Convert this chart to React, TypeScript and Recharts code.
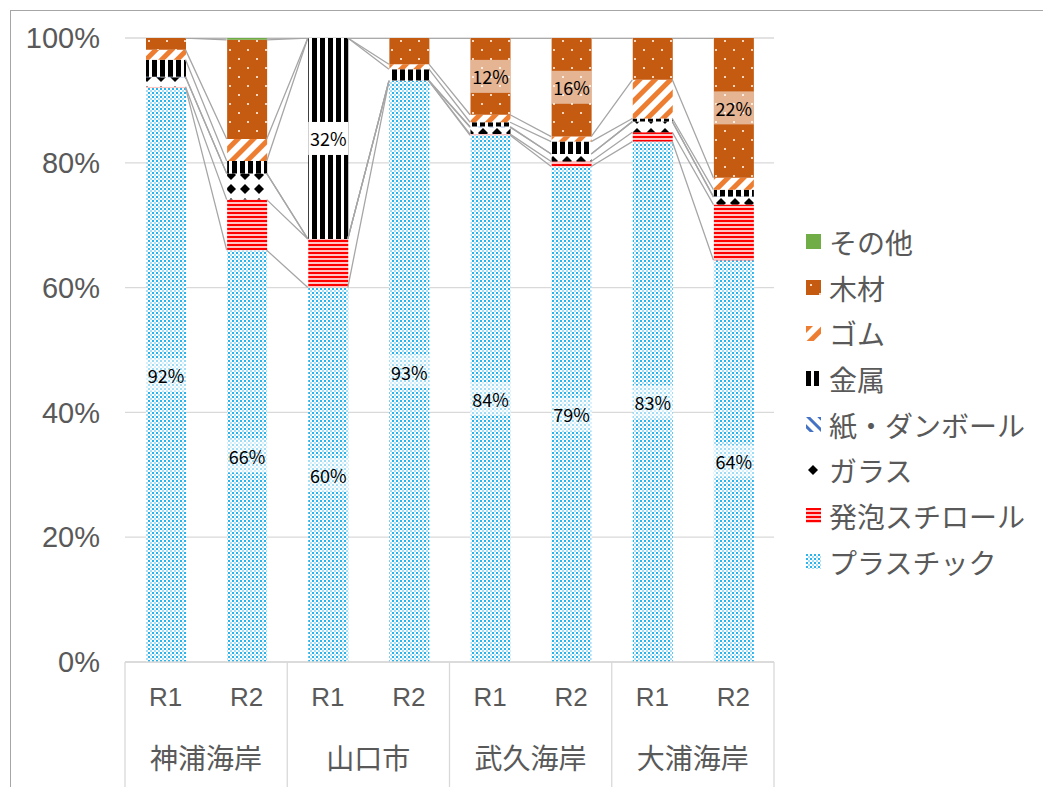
import { ComposedChart, Bar, Line, XAxis, YAxis, CartesianGrid, LabelList } from 'recharts';

const SITES = ['神浦海岸', '山口市', '武久海岸', '大浦海岸'];
const ROUNDS = ['R1', 'R2', 'R1', 'R2', 'R1', 'R2', 'R1', 'R2'];
const Y_TICKS = [0, 20, 40, 60, 80, 100];

// share of each litter type per survey (%), bottom of the stack first
const plastic = [92.0, 66.0, 60.0, 93.1, 84.4, 79.4, 83.4, 64.4];
const styrofoam = [0.2, 8.1, 7.8, 0, 0.2, 0.8, 1.5, 8.9];
const glass = [1.5, 4.2, 0, 0, 1.1, 1.2, 1.7, 1.2];
const paper = [0.1, 0, 0, 0.1, 0.1, 0, 0, 0.1];
const metal = [2.7, 2.0, 32.2, 1.8, 0.7, 2.0, 0.5, 1.1];
const rubber = [1.6, 3.5, 0, 0.8, 1.2, 0.8, 6.2, 1.9];
const wood = [1.9, 15.9, 0, 4.2, 12.3, 15.8, 6.7, 22.4];
const other = [0, 0.3, 0, 0, 0, 0, 0, 0];

// bars that carry a value label, per series
const plasticLabels = [0, 1, 2, 3, 4, 5, 6, 7];
const metalLabels = [2];
const woodLabels = [4, 5, 7];

const SERIES = [
    { key: 'plastic', name: 'プラスチック', values: plastic, fill: 'url(#pat-plastic)', labels: plasticLabels, boxOpacity: 0.55 },
    { key: 'styrofoam', name: '発泡スチロール', values: styrofoam, fill: 'url(#pat-foam)', labels: [], boxOpacity: 0.55 },
    { key: 'glass', name: 'ガラス', values: glass, fill: 'url(#pat-glass)', labels: [], boxOpacity: 0.55 },
    { key: 'paper', name: '紙・ダンボール', values: paper, fill: 'url(#pat-paper)', labels: [], boxOpacity: 0.55 },
    { key: 'metal', name: '金属', values: metal, fill: 'url(#pat-metal)', labels: metalLabels, boxOpacity: 1 },
    { key: 'rubber', name: 'ゴム', values: rubber, fill: 'url(#pat-rubber)', labels: [], boxOpacity: 0.55 },
    { key: 'wood', name: '木材', values: wood, fill: 'url(#pat-wood)', labels: woodLabels, boxOpacity: 0.55 },
    { key: 'other', name: 'その他', values: other, fill: '#70ad47', labels: [], boxOpacity: 0.55 },
];

const rows = ROUNDS.map((round, i) => {
    const row: Record<string, string | number | null> = { id: `${SITES[Math.floor(i / 2)]}-${round}` };
    let cum = 0;
    SERIES.forEach((s, k) => {
        row[s.key] = s.values[i];
        row[`${s.key}_lbl`] = s.labels.includes(i) ? Math.round(s.values[i]) : null;
        cum += s.values[i];
        row[`cum${k}`] = cum;
    });
    return row;
});

const W = 1043;
const H = 787;
const MARGIN = { top: 38, right: 269, bottom: 0, left: 0 };
const Y_AXIS_W = 125;
const X_AXIS_H = 125;
const BAR_SIZE = 40;
const HALF_BAND = (W - MARGIN.left - MARGIN.right - Y_AXIS_W) / ROUNDS.length / 2;
const GRAY_TEXT = '#595959';
const LATIN = '"Liberation Sans", Arial, sans-serif';
const CJK = '"Noto Sans CJK JP", sans-serif';

// Excel-style series lines: from the right edge of one bar to the left edge of the next
function seriesCurve(context: any) {
    let n = 0;
    return {
        areaStart() {},
        areaEnd() {},
        lineStart() {
            n = 0;
        },
        lineEnd() {},
        point(x: number, y: number) {
            if (n > 0) context.lineTo(+x - BAR_SIZE / 2, +y);
            context.moveTo(+x + BAR_SIZE / 2, +y);
            n++;
        },
    };
}

function makeLabel(boxOpacity: number) {
    return (props: any) => {
        const { value } = props;
        if (value === null || value === undefined || value === '') return null;
        const vb = props.viewBox ?? props;
        const x = Number(vb.x ?? props.x);
        const y = Number(vb.y ?? props.y);
        const w = Number(vb.width ?? props.width);
        const h = Number(vb.height ?? props.height);
        const cx = x + w / 2;
        const cy = y + h / 2;
        return (
            <g>
                <rect x={cx - 20} y={cy - 16.5} width={40} height={33} fill="#ffffff" fillOpacity={boxOpacity} />
                <text x={cx} y={cy} textAnchor="middle" dominantBaseline="central" fontSize={18} fontFamily={CJK} fill="#000">
                    {`${value}%`}
                </text>
            </g>
        );
    };
}

function CategoryTick(props: any) {
    const { x, y, payload } = props;
    const i = payload.index;
    return (
        <g>
            <text x={x} y={y + 35} textAnchor="middle" dominantBaseline="central" fontSize={26} fontFamily={LATIN} fill={GRAY_TEXT}>
                {ROUNDS[i]}
            </text>
            {i % 2 === 0 && (
                <>
                    <text x={x + HALF_BAND} y={y + 95} textAnchor="middle" dominantBaseline="central" fontSize={28} fontFamily={CJK} fill={GRAY_TEXT}>
                        {SITES[i / 2]}
                    </text>
                    <line x1={x - HALF_BAND} x2={x - HALF_BAND} y1={y} y2={y + X_AXIS_H} stroke="#d9d9d9" strokeWidth={1.3} />
                </>
            )}
            {i === ROUNDS.length - 1 && (
                <line x1={x + HALF_BAND} x2={x + HALF_BAND} y1={y} y2={y + X_AXIS_H} stroke="#d9d9d9" strokeWidth={1.3} />
            )}
        </g>
    );
}

function LegendBox() {
    return (
        <div style={{ position: 'absolute', left: 806, top: 219, fontFamily: CJK, color: GRAY_TEXT }}>
            {[...SERIES].reverse().map((s) => (
                <div key={s.key} style={{ display: 'flex', alignItems: 'center', height: 45.7 }}>
                    <svg width={15} height={15} style={{ marginRight: 8, flex: 'none' }}>
                        <rect width={15} height={15} fill={s.fill} />
                    </svg>
                    <span style={{ fontSize: 28, lineHeight: '30px', whiteSpace: 'nowrap' }}>{s.name}</span>
                </div>
            ))}
        </div>
    );
}

export default function App() {
    return (
        <div style={{ position: 'relative', width: W, height: H, overflow: 'hidden', background: '#fff' }}>
            <style>{'body{margin:0}'}</style>
            <ComposedChart width={W} height={H} data={rows} margin={MARGIN}>
                <defs>
                    <pattern id="pat-plastic" width="4" height="4" patternUnits="userSpaceOnUse">
                        <rect width="4" height="4" fill="#ffffff" />
                        <rect x="0" y="0" width="2" height="2" fill="#2ab4ee" />
                        <rect x="2" y="2" width="2" height="2" fill="#a6def7" />
                    </pattern>
                    <pattern id="pat-foam" width="4" height="4" patternUnits="userSpaceOnUse">
                        <rect width="4" height="4" fill="#ffc4c4" />
                        <rect width="4" height="2" fill="#ff0000" />
                    </pattern>
                    <pattern id="pat-glass" width="14" height="14" patternUnits="userSpaceOnUse">
                        <rect width="14" height="14" fill="#ffffff" />
                        <polygon points="7,2 12,7 7,12 2,7" fill="#000000" />
                    </pattern>
                    <pattern id="pat-paper" width="8" height="8" patternUnits="userSpaceOnUse" patternTransform="rotate(-45)">
                        <rect width="8" height="8" fill="#ffffff" />
                        <rect width="3" height="8" fill="#4472c4" />
                    </pattern>
                    <pattern id="pat-metal" width="8" height="8" patternUnits="userSpaceOnUse">
                        <rect width="8" height="8" fill="#ffffff" />
                        <rect width="5" height="8" fill="#000000" />
                    </pattern>
                    <pattern id="pat-rubber" width="11" height="11" patternUnits="userSpaceOnUse" patternTransform="rotate(45)">
                        <rect width="11" height="11" fill="#ffffff" />
                        <rect width="5" height="11" fill="#ed7d31" />
                    </pattern>
                    <pattern id="pat-wood" width="18" height="18" patternUnits="userSpaceOnUse">
                        <rect width="18" height="18" fill="#c55a11" />
                        <rect x="4" y="4" width="2" height="2" fill="#f6d5bd" />
                        <rect x="13" y="13" width="2" height="2" fill="#f6d5bd" />
                    </pattern>
                </defs>
                <CartesianGrid vertical={false} stroke="#d9d9d9" strokeWidth={1.3} />
                <XAxis
                    dataKey="id"
                    interval={0}
                    height={X_AXIS_H}
                    tickLine={false}
                    tickSize={0}
                    tickMargin={0}
                    axisLine={{ stroke: '#d9d9d9', strokeWidth: 1.3 }}
                    tick={<CategoryTick />}
                />
                <YAxis
                    width={Y_AXIS_W}
                    domain={[0, 100]}
                    ticks={Y_TICKS}
                    allowDataOverflow
                    axisLine={false}
                    tickLine={false}
                    tickSize={0}
                    tickMargin={25}
                    tickFormatter={(v) => `${v}%`}
                    tick={{ fontSize: 29, fontFamily: LATIN, fill: GRAY_TEXT }}
                />
                {SERIES.map((s) => (
                    <Bar key={s.key} dataKey={s.key} name={s.name} stackId="a" fill={s.fill} barSize={BAR_SIZE} isAnimationActive={false}>
                        {s.labels.length > 0 && <LabelList dataKey={`${s.key}_lbl`} content={makeLabel(s.boxOpacity)} />}
                    </Bar>
                ))}
                {SERIES.map((s, k) => (
                    <Line
                        key={`cum${k}`}
                        dataKey={`cum${k}`}
                        type={seriesCurve as any}
                        stroke="#a6a6a6"
                        strokeWidth={1.3}
                        dot={false}
                        activeDot={false}
                        legendType="none"
                        isAnimationActive={false}
                    />
                ))}
            </ComposedChart>
            <LegendBox />
            <div
                style={{
                    position: 'absolute',
                    left: 10,
                    top: 10,
                    width: 1200,
                    height: 1000,
                    borderLeft: '1.5px solid #a6a6a6',
                    borderTop: '1.5px solid #a6a6a6',
                    pointerEvents: 'none',
                }}
            />
        </div>
    );
}
